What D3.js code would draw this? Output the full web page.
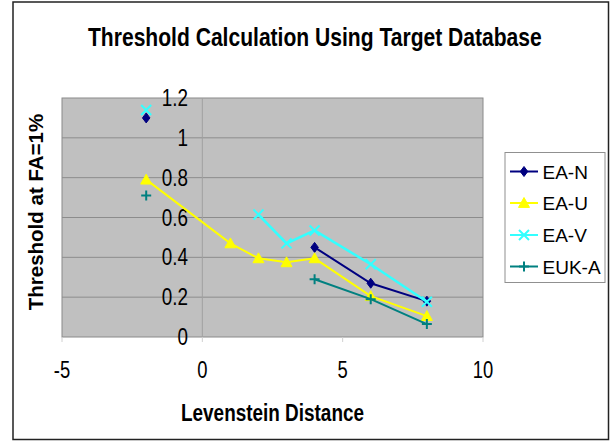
<!DOCTYPE html>
<html>
<head>
<meta charset="utf-8">
<script src="https://cdn.jsdelivr.net/npm/d3@7"></script>
<style>
  body { margin: 0; background: #fff; }
  text { font-family: "Liberation Sans", Arial, sans-serif; fill: #000; }
</style>
</head>
<body>
<div class="chart"></div>
<script>
(function() {
  'use strict';

  const WIDTH = 610;
  const HEIGHT = 441;

  // Data (Levenstein distance vs threshold)
  const distances = [-2, 1, 2, 3, 4, 6, 8];
  const eaN  = [1.10, null, null, null, 0.45, 0.27, 0.18];
  const eaU  = [0.79, 0.47, 0.395, 0.375, 0.395, 0.205, 0.105];
  const eaV  = [1.14, null, 0.615, 0.47, 0.535, 0.365, 0.177];
  const eukA = [0.71, null, null, null, 0.29, 0.19, 0.065];

  const seriesNames = ['EA-N', 'EA-U', 'EA-V', 'EUK-A'];
  const seriesValues = [eaN, eaU, eaV, eukA];
  const colors = ['#000080', '#ffff00', '#33ffff', '#008080'];
  const markers = ['diamond', 'triangle', 'x', 'plus'];

  const xTicks = [-5, 0, 5, 10];
  const yTicks = [0, 0.2, 0.4, 0.6, 0.8, 1, 1.2];

  const svg = d3.select('.chart')
    .append('svg')
    .attr('width', WIDTH)
    .attr('height', HEIGHT);

  // outer frame
  svg.append('rect')
    .attr('x', 13).attr('y', 2)
    .attr('width', 595.5).attr('height', 437.5)
    .attr('fill', '#fff')
    .attr('stroke', '#222')
    .attr('stroke-width', 1.5);

  const x = d3.scaleLinear().domain([-5, 10]).range([62, 483]);
  const y = d3.scaleLinear().domain([0, 1.2]).range([337, 98]);

  // plot area
  svg.append('rect')
    .attr('x', x(-5)).attr('y', y(1.2))
    .attr('width', x(10) - x(-5)).attr('height', y(0) - y(1.2))
    .attr('fill', '#c0c0c0')
    .attr('stroke', '#8a8a8a')
    .attr('stroke-width', 1);

  // gridlines
  svg.append('g')
    .selectAll('line')
    .data(yTicks.slice(1, -1))
    .join('line')
    .attr('x1', x(-5)).attr('x2', x(10))
    .attr('y1', d => y(d)).attr('y2', d => y(d))
    .attr('stroke', '#8c8c8c')
    .attr('stroke-width', 1);

  // y axis at x = 0
  svg.append('line')
    .attr('x1', x(0)).attr('x2', x(0))
    .attr('y1', y(0)).attr('y2', y(1.2))
    .attr('stroke', '#a0a0a0')
    .attr('stroke-width', 1);

  // x tick marks below bottom edge
  svg.append('g')
    .selectAll('line')
    .data(xTicks)
    .join('line')
    .attr('x1', d => x(d)).attr('x2', d => x(d))
    .attr('y1', y(0)).attr('y2', y(0) + 5)
    .attr('stroke', '#d0d0d0');

  // narrow looking text helper
  function narrowText(g, tx, ty, str, size, sx, anchor, weight) {
    return g.append('text')
      .attr('transform', 'translate(' + tx + ',' + ty + ') scale(' + sx + ',1)')
      .attr('text-anchor', anchor)
      .attr('font-size', size)
      .attr('font-weight', weight || 'normal')
      .text(str);
  }

  // squeeze a text to a target width (scale, keeps bbox honest)
  function fitText(g, tx, ty, str, size, width, weight) {
    const t = g.append('text')
      .attr('font-size', size)
      .attr('font-weight', weight || 'normal')
      .text(str);
    const w = t.node().getComputedTextLength();
    t.attr('transform', 'translate(' + tx + ',' + ty + ') scale(' + (width / w) + ',1)');
    return t;
  }

  // y tick labels
  const yLab = svg.append('g');
  yTicks.forEach(function(t) {
    narrowText(yLab, 188, y(t) + 8, String(t), 23, 0.82, 'end');
  });

  // x tick labels
  const xLab = svg.append('g');
  xTicks.forEach(function(t) {
    narrowText(xLab, x(t), 378, String(t), 23, 0.8, 'middle');
  });

  // titles
  fitText(svg, 88, 46, 'Threshold Calculation Using Target Database', 25, 454, 'bold');
  fitText(svg, 181, 421, 'Levenstein Distance', 24, 183, 'bold');

  svg.append('text')
    .attr('transform', 'translate(43,212) rotate(-90)')
    .attr('text-anchor', 'middle')
    .attr('font-size', 20.5)
    .attr('font-weight', 'bold')
    .text('Threshold at FA=1%');

  // marker shapes
  function markerPath(type, s) {
    switch (type) {
      case 'diamond':
        return 'M0,' + (-s) + 'L' + (s * 0.75) + ',0L0,' + s + 'L' + (-s * 0.75) + ',0Z';
      case 'triangle':
        return 'M0,' + (-s) + 'L' + s + ',' + (s * 0.8) + 'L' + (-s) + ',' + (s * 0.8) + 'Z';
      case 'x':
        return 'M' + (-s) + ',' + (-s) + 'L' + s + ',' + s + 'M' + s + ',' + (-s) + 'L' + (-s) + ',' + s;
      default:
        return 'M' + (-s) + ',0L' + s + ',0M0,' + (-s) + 'L0,' + s;
    }
  }

  function drawMarker(g, type, color, px, py) {
    const filled = type === 'diamond' || type === 'triangle';
    g.append('path')
      .attr('transform', 'translate(' + px + ',' + py + ')')
      .attr('d', markerPath(type, type === 'triangle' ? 5.5 : 5))
      .attr('fill', filled ? color : 'none')
      .attr('stroke', color)
      .attr('stroke-width', filled ? 1 : 2);
  }

  const line = d3.line()
    .defined(d => d[1] !== null)
    .x(d => x(d[0]))
    .y(d => y(d[1]));

  // series
  for (let i = 0; i < seriesNames.length; ++i) {
    const pts = distances.map((d, j) => [d, seriesValues[i][j]]);
    const g = svg.append('g').attr('class', 'series');
    g.append('path')
      .attr('d', line(pts))
      .attr('fill', 'none')
      .attr('stroke', colors[i])
      .attr('stroke-width', i === 2 ? 2.5 : 2);
    pts.filter(p => p[1] !== null).forEach(function(p) {
      drawMarker(g, markers[i], colors[i], x(p[0]), y(p[1]));
    });
  }

  // legend
  const leg = svg.append('g');
  leg.append('rect')
    .attr('x', 505).attr('y', 152.5)
    .attr('width', 100).attr('height', 130)
    .attr('fill', '#fff')
    .attr('stroke', '#909090');
  const legY = [171.5, 203, 235, 266.5];
  for (let i = 0; i < seriesNames.length; ++i) {
    leg.append('line')
      .attr('x1', 510).attr('x2', 538)
      .attr('y1', legY[i]).attr('y2', legY[i])
      .attr('stroke', colors[i])
      .attr('stroke-width', 2);
    drawMarker(leg, markers[i], colors[i], 524, legY[i]);
    leg.append('text')
      .attr('x', 542.5).attr('y', legY[i] + 7)
      .attr('font-size', 19)
      .text(seriesNames[i]);
  }
})();
</script>
</body>
</html>
